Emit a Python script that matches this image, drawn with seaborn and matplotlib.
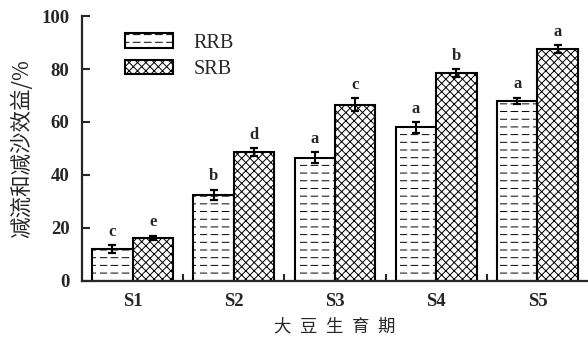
import numpy as np
import pandas as pd
import matplotlib
matplotlib.use("Agg")
import matplotlib.pyplot as plt
import matplotlib.hatch as mhatch
from matplotlib.path import Path
from matplotlib.patches import Patch
from matplotlib.ticker import FixedLocator
import seaborn as sns

# Soybean growth stages and runoff / sediment reduction benefits (%)
stages = ["S1", "S2", "S3", "S4", "S5"]
series = ["RRB", "SRB"]
rrb = [12.0, 32.5, 46.5, 58.0, 68.0]
srb = [16.3, 48.5, 66.5, 78.5, 87.5]
rrb_err = [1.5, 2.0, 2.0, 2.0, 1.2]
srb_err = [0.8, 1.5, 2.5, 1.5, 1.5]
rrb_sig = ["c", "b", "a", "a", "a"]
srb_sig = ["e", "d", "c", "b", "a"]
y_ticks = [0, 20, 40, 60, 80, 100]


class DashedHorizontalHatch(mhatch.HatchPatternBase):
    """Horizontal hatch made of short dashes instead of solid lines."""
    dashes_per_row = 9
    dash_fraction = 0.6

    def __init__(self, hatch, density):
        self.num_lines = int((hatch.count('-') + hatch.count('+')) * density * 1.1)
        self.num_vertices = self.num_lines * self.dashes_per_row * 2

    def set_vertices_and_codes(self, vertices, codes):
        rows = (np.arange(self.num_lines) + 0.5) / self.num_lines
        period = 1.0 / self.dashes_per_row
        starts = np.arange(self.dashes_per_row) * period
        ends = starts + period * self.dash_fraction
        yy = np.repeat(rows, self.dashes_per_row)
        vertices[0::2, 0] = np.tile(starts, self.num_lines)
        vertices[0::2, 1] = yy
        vertices[1::2, 0] = np.tile(ends, self.num_lines)
        vertices[1::2, 1] = yy
        codes[0::2] = Path.MOVETO
        codes[1::2] = Path.LINETO


mhatch._hatch_types = [DashedHorizontalHatch if t is mhatch.HorizontalHatch else t
                       for t in mhatch._hatch_types]

sns.set_style("ticks")
plt.rcParams["font.family"] = ["Liberation Serif", "Noto Sans CJK SC", "DejaVu Sans"]
plt.rcParams["hatch.linewidth"] = 0.7
plt.rcParams["axes.linewidth"] = 1.6

hatches = {"RRB": "--", "SRB": "xxxx"}

df = pd.DataFrame({
    "stage": stages * 2,
    "series": [series[0]] * len(stages) + [series[1]] * len(stages),
    "value": rrb + srb,
})

fig = plt.figure(figsize=(5.88, 3.42), dpi=100)
ax = fig.add_axes([0.1395, 0.1784, 0.8605, 0.7748])

sns.barplot(data=df, x="stage", y="value", hue="series", hue_order=series,
            palette=["white", "white"], saturation=1, edgecolor="black",
            linewidth=1.5, errorbar=None, width=0.8, legend=False, ax=ax)

errs = [rrb_err, srb_err]
vals = [rrb, srb]
sigs = [rrb_sig, srb_sig]
for container, name, v, e, s in zip(ax.containers, series, vals, errs, sigs):
    xs = []
    for bar in container:
        bar.set_hatch(hatches[name])
        bar.set_edgecolor("black")
        xs.append(bar.get_x() + bar.get_width() / 2)
    ax.errorbar(xs, v, yerr=e, fmt="none", ecolor="black", elinewidth=1.5,
                capsize=3, capthick=1.6, zorder=5)
    for x, val, err, letter in zip(xs, v, e, s):
        ax.text(x, val + err + 2.0, letter, ha="center", va="bottom",
                fontsize=12, fontweight="bold")

ax.set_xlim(-0.5, len(stages) - 0.5)
ax.set_ylim(0, 100)
ax.set_yticks(y_ticks)
ax.set_yticklabels([str(t) for t in y_ticks], fontsize=13.5, fontweight="bold")
ax.set_xticks(range(len(stages)))
ax.set_xticklabels(stages, fontsize=13.5, fontweight="bold")
ax.xaxis.set_minor_locator(FixedLocator(np.arange(0.5, len(stages) - 1, 1.0)))
ax.tick_params(axis="x", which="major", length=0, pad=9)
ax.tick_params(axis="x", which="minor", direction="in", length=5, width=1.5)
ax.tick_params(axis="y", direction="in", length=6, width=1.5, pad=9)

for side in ("top", "right"):
    ax.spines[side].set_visible(False)

ax.set_xlabel("大\u2002豆\u2002生\u2002育\u2002期", fontsize=12.5,
              family=["Noto Sans CJK SC", "DejaVu Sans"], labelpad=5)
ax.set_ylabel("减流和减沙效益/%", fontsize=15.5, family=["Noto Sans CJK SC"],
              labelpad=6)

handles = [Patch(facecolor="white", edgecolor="black", linewidth=1.5,
                 hatch=hatches[name], label=name) for name in series]
ax.legend(handles=handles, loc="upper left", bbox_to_anchor=(0.085, 0.935),
          frameon=False, fontsize=14.5, handlelength=2.4, handleheight=0.75,
          handletextpad=1.0, labelspacing=0.35, borderpad=0, borderaxespad=0)

fig.savefig("out.png", dpi=100)
